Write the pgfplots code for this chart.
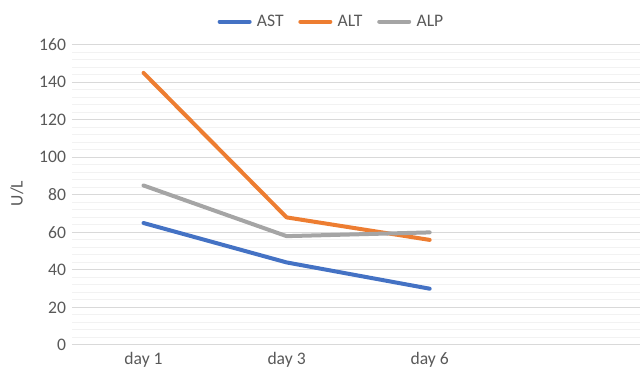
\documentclass[border=0pt]{standalone}
\usepackage{pgfplots}
\pgfplotsset{compat=1.18}
\usepackage{fontspec}
\setmainfont{Carlito}
\definecolor{cAST}{HTML}{4472C4}
\definecolor{cALT}{HTML}{ED7D31}
\definecolor{cALP}{HTML}{A5A5A5}
\definecolor{txt}{HTML}{595959}
\definecolor{gmaj}{HTML}{D9D9D9}
\definecolor{gmin}{HTML}{F2F2F2}
\begin{document}
\begin{tikzpicture}
\path[use as bounding box] (0,0) rectangle (480pt,279pt);
\begin{axis}[
  scale only axis,
  anchor=south west,
  at={(54pt,20.25pt)},
  width=426pt, height=225.2pt,
  xmin=-0.5, xmax=3.47,
  ymin=0, ymax=160,
  xtick={0,1,2}, xticklabels={day 1,day 3,day 6},
  ytick={0,20,...,160},
  minor y tick num=4,
  axis line style={draw=none},
  ymajorgrids, yminorgrids,
  major grid style={gmaj, line width=0.75pt},
  minor grid style={gmin, line width=0.75pt},
  major tick length=0pt, minor tick length=0pt,
  tick style={draw=none},
  tick label style={font=\fontsize{13.2}{15}\selectfont, text=txt},
  /pgf/number format/assume math mode=true,
  yticklabel style={xshift=-1pt},
  xticklabel style={yshift=-2pt},
  ylabel={U/L},
  ylabel style={font=\fontsize{13.2}{15}\selectfont, text=txt, at={(axis description cs:-0.097,0.505)}, anchor=center},
  legend columns=3,
  legend style={draw=none, fill=none, at={(axis description cs:0.455,1.077)}, anchor=center,
    font=\fontsize{13.2}{15}\selectfont, text=txt, inner sep=0pt,
    nodes={inner sep=0pt},
    /tikz/every odd column/.append style={column sep=4pt},
    /tikz/every even column/.append style={column sep=11pt}},
  legend image code/.code={\draw[#1, line width=3pt, line cap=round] (1.5pt,0pt) -- (24pt,0pt);},
  every axis plot/.append style={line width=3pt, line join=round, line cap=round},
]
\addplot[cAST] coordinates {(0,65) (1,44) (2,30)};
\addlegendentry{AST}
\addplot[cALT] coordinates {(0,145) (1,68) (2,56)};
\addlegendentry{ALT}
\addplot[cALP] coordinates {(0,85) (1,58) (2,60)};
\addlegendentry{ALP}
\end{axis}
\end{tikzpicture}
\end{document}
